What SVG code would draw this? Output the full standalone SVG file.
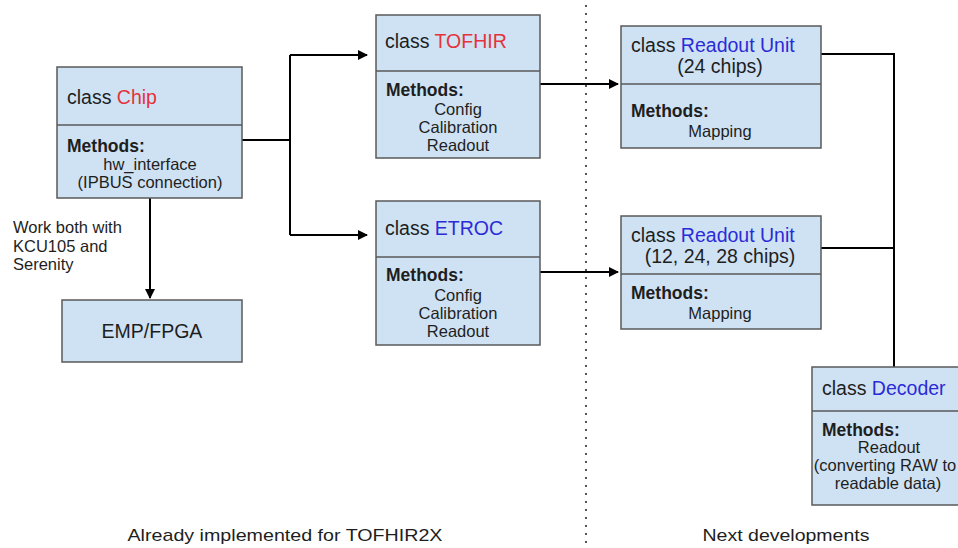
<svg xmlns="http://www.w3.org/2000/svg" width="958" height="548" viewBox="0 0 958 548">
<style>
.box{fill:#cfe2f3;stroke:#595959;stroke-width:1.5}
.div{stroke:#595959;stroke-width:1.5}
text{font-family:"Liberation Sans",Arial,sans-serif;fill:#1e1e1e}
.t{font-size:19.5px}
.m{font-size:17.5px;font-weight:bold}
.b{font-size:16.5px;text-anchor:middle}
.red{fill:#e5323b}
.blue{fill:#2b2bd8}
.con{stroke:#000;stroke-width:2;fill:none}
</style>
<defs>
<marker id="ah" viewBox="0 0 10 10" refX="9" refY="5" markerWidth="5" markerHeight="5" orient="auto" markerUnits="strokeWidth">
<path d="M0,0 L10,5 L0,10 z" fill="#000"/>
</marker>
</defs>
<rect width="958" height="548" fill="#fff"/>
<line x1="586" y1="5" x2="586" y2="548" stroke="#555" stroke-width="2" stroke-dasharray="2,6"/>
<g id="connectors">
<path class="con" d="M242,140 H290"/>
<path class="con" d="M290,55 V235"/>
<path class="con" d="M290,55 H367" marker-end="url(#ah)"/>
<path class="con" d="M290,235 H367" marker-end="url(#ah)"/>
<path class="con" d="M150,198 V298" marker-end="url(#ah)"/>
<path class="con" d="M540,84 H618" marker-end="url(#ah)"/>
<path class="con" d="M540,272 H618" marker-end="url(#ah)"/>
<path class="con" d="M821,54 H894 V367"/>
<path class="con" d="M821,248 H894"/>
</g>
<g id="chip">
<rect class="box" x="57" y="67" width="185" height="131"/>
<line class="div" x1="57" y1="125" x2="242" y2="125"/>
<text class="t" x="67" y="104">class <tspan class="red">Chip</tspan></text>
<text class="m" x="67" y="152">Methods:</text>
<text class="b" x="150" y="170">hw_interface</text>
<text class="b" x="150" y="188">(IPBUS connection)</text>
</g>
<g id="note">
<text x="13" y="233" font-size="16.5">Work both with</text>
<text x="13" y="252" font-size="16.5">KCU105 and</text>
<text x="13" y="270" font-size="16.5">Serenity</text>
</g>
<g id="emp">
<rect class="box" x="62" y="300" width="180" height="62"/>
<text x="152" y="338" font-size="19.5" text-anchor="middle">EMP/FPGA</text>
</g>
<g id="tofhir">
<rect class="box" x="376" y="15" width="164" height="143"/>
<line class="div" x1="376" y1="71" x2="540" y2="71"/>
<text class="t" x="385" y="48">class <tspan class="red">TOFHIR</tspan></text>
<text class="m" x="386" y="96">Methods:</text>
<text class="b" x="458" y="115">Config</text>
<text class="b" x="458" y="133">Calibration</text>
<text class="b" x="458" y="151">Readout</text>
</g>
<g id="etroc">
<rect class="box" x="376" y="201" width="164" height="144"/>
<line class="div" x1="376" y1="257" x2="540" y2="257"/>
<text class="t" x="385" y="235">class <tspan class="blue">ETROC</tspan></text>
<text class="m" x="386" y="281">Methods:</text>
<text class="b" x="458" y="301">Config</text>
<text class="b" x="458" y="319">Calibration</text>
<text class="b" x="458" y="337">Readout</text>
</g>
<g id="readout1">
<rect class="box" x="621" y="26" width="200" height="122"/>
<line class="div" x1="621" y1="84" x2="821" y2="84"/>
<text class="t" x="631" y="52">class <tspan class="blue">Readout Unit</tspan></text>
<text class="t" x="720" y="73" text-anchor="middle">(24 chips)</text>
<text class="m" x="631" y="117">Methods:</text>
<text class="b" x="720" y="137">Mapping</text>
</g>
<g id="readout2">
<rect class="box" x="621" y="216" width="200" height="113"/>
<line class="div" x1="621" y1="274" x2="821" y2="274"/>
<text class="t" x="631" y="242">class <tspan class="blue">Readout Unit</tspan></text>
<text class="t" x="720" y="263" text-anchor="middle">(12, 24, 28 chips)</text>
<text class="m" x="631" y="299">Methods:</text>
<text class="b" x="720" y="319">Mapping</text>
</g>
<g id="decoder">
<rect class="box" x="812" y="367" width="152" height="138"/>
<line class="div" x1="812" y1="411" x2="964" y2="411"/>
<text class="t" x="822" y="395">class <tspan class="blue">Decoder</tspan></text>
<text class="m" x="822" y="436">Methods:</text>
<text class="b" x="889" y="453">Readout</text>
<text class="b" x="885" y="471" font-size="16">(converting RAW to</text>
<text class="b" x="888" y="489">readable data)</text>
</g>
<g id="labels">
<text x="285" y="541" font-size="17" text-anchor="middle" textLength="315" lengthAdjust="spacingAndGlyphs">Already implemented for TOFHIR2X</text>
<text x="786" y="541" font-size="17" text-anchor="middle" textLength="167" lengthAdjust="spacingAndGlyphs">Next developments</text>
</g>
</svg>
